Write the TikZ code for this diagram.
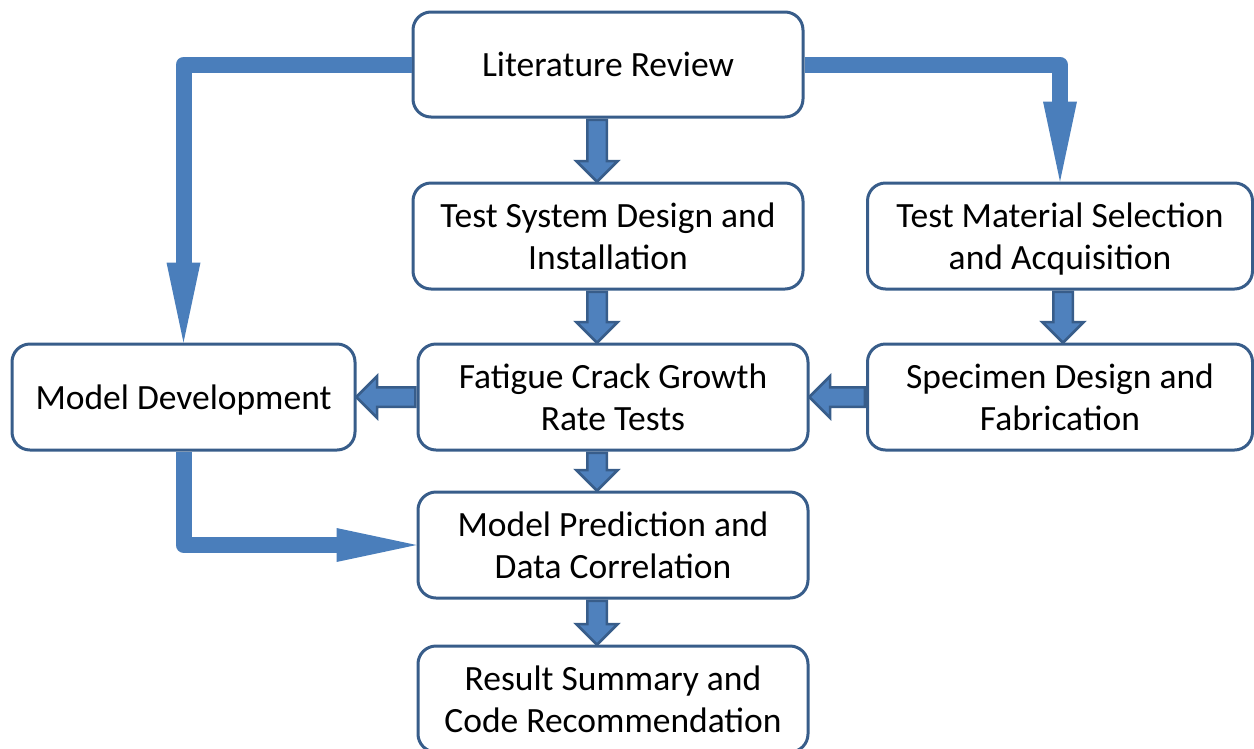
\documentclass[tikz,border=0pt]{standalone}
\usepackage{fontspec}
\setmainfont{Carlito}
\usetikzlibrary{arrows.meta,shapes.arrows,calc}
\definecolor{boxLine}{RGB}{56,93,138}
\definecolor{flowBlue}{RGB}{74,126,187}
\definecolor{stepBlue}{RGB}{79,129,189}

\begin{document}
\begin{tikzpicture}[
  x=1pt, y=-1pt,
  font=\fontsize{35.5}{42}\selectfont,
  task/.style={
    rectangle,
    rounded corners=18pt,
    draw=boxLine,
    fill=white,
    line width=3pt,
    align=center,
    inner sep=0pt,
    minimum width=390pt,
    minimum height=106pt,
    execute at begin node={\rule{0pt}{30pt}},
    execute at end node={\rule[-6pt]{0pt}{6pt}},
  },
  twoline/.style={execute at begin node={\rule{0pt}{73pt}}},
  stepArrow/.style={
    single arrow,
    draw=boxLine,
    fill=stepBlue,
    line width=2.5pt,
    inner sep=8.5pt,
    single arrow head extend=11pt,
    single arrow tip angle=90,
    anchor=tail,
  },
  blk/.style={to path={
    let \p1=(\tikztostart), \p2=(\tikztotarget),
        \n1={veclen(\x2-\x1,\y2-\y1)-1}, \n2={atan2(\y2-\y1,\x2-\x1)} in
    node[stepArrow, minimum height=\n1, rotate=\n2] at (\tikztostart) {}}},
  flow/.style={flowBlue, line width=16pt, line join=round,
    -{Triangle[length=80pt, width=34pt, line width=0pt]}},
]
  \useasboundingbox (0,0) rectangle (1254,748);

  \node[task, minimum height=105pt] (lit) at (608,64.5) {Literature Review};
  \node[task, twoline] (tsd) at (608,236) {Test System Design and\\Installation};
  \node[task, twoline, minimum width=385pt] (tms) at (1060,236) {Test Material Selection\\and Acquisition};
  \node[task, minimum width=343pt] (mdev) at (183.5,397) {Model Development};
  \node[task, twoline] (fcg) at (613,397) {Fatigue Crack Growth\\Rate Tests};
  \node[task, twoline, minimum width=385pt] (spec) at (1060,397) {Specimen Design and\\Fabrication};
  \node[task, twoline] (mpred) at (613,545) {Model Prediction and\\Data Correlation};
  \node[task, twoline] (res) at (613,699) {Result Summary and\\Code Recommendation};

  % big flow arrows
  \draw[flow] (lit.west) -| (mdev.north);
  \draw[flow] (lit.east) -| (tms.north);
  \draw[flow] (mdev.south) |- (mpred.west);

  % block arrows between steps
  \coordinate (cx) at (597,0);
  \coordinate (rx) at (1063,0);
  \path (lit.south -| cx) to[blk] (tsd.north -| cx);
  \path (tsd.south -| cx) to[blk] (fcg.north -| cx);
  \path (fcg.south -| cx) to[blk] (mpred.north -| cx);
  \path (mpred.south -| cx) to[blk] (res.north -| cx);
  \path (tms.south -| rx) to[blk] (spec.north -| rx);
  \path (fcg.west) to[blk] (mdev.east);
  \path (spec.west) to[blk] (fcg.east);

\end{tikzpicture}
\end{document}
